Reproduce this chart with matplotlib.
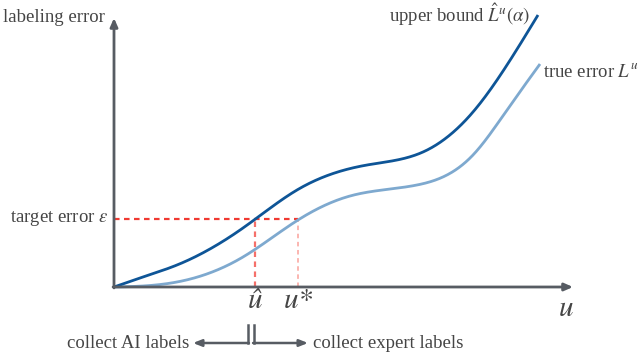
import numpy as np
import matplotlib
matplotlib.use("Agg")
import matplotlib.pyplot as plt

plt.rcParams['mathtext.fontset'] = 'stix'
plt.rcParams['font.family'] = ['Liberation Serif', 'DejaVu Serif']

# ---- data (units: u along x, error along y) ----
S = 46.0
upper_px_x = [114, 143, 177, 243, 297, 367, 423, 473, 507, 538]
upper_px_y = [287, 277, 265, 228, 190, 165, 152, 112, 65, 15]
lower_px_x = [114, 143, 177, 243, 298, 350, 417, 473, 507, 540]
lower_px_y = [287, 286, 282, 257, 220, 196, 185, 155, 110, 64]

u_upper = [(x - 114) / S for x in upper_px_x]
err_upper = [(287 - y) / S for y in upper_px_y]
u_lower = [(x - 114) / S for x in lower_px_x]
err_lower = [(287 - y) / S for y in lower_px_y]

target_err = (287 - 219) / S
u_hat = (255 - 114) / S
u_star = (298 - 114) / S
x_max = (573 - 114) / S
y_max = (287 - 18) / S


def spline(xs, ys, n=500):
    """Natural cubic spline through the read points."""
    x = np.asarray(xs, float); y = np.asarray(ys, float)
    k = len(x); h = np.diff(x)
    A = np.zeros((k, k)); b = np.zeros(k)
    A[0, 0] = A[-1, -1] = 1
    for i in range(1, k - 1):
        A[i, i - 1] = h[i - 1]; A[i, i] = 2 * (h[i - 1] + h[i]); A[i, i + 1] = h[i]
        b[i] = 6 * ((y[i + 1] - y[i]) / h[i] - (y[i] - y[i - 1]) / h[i - 1])
    M = np.linalg.solve(A, b)
    xx = np.linspace(x[0], x[-1], n)
    idx = np.clip(np.searchsorted(x, xx) - 1, 0, k - 2)
    x0, x1 = x[idx], x[idx + 1]; hh = x1 - x0
    yy = (M[idx] * (x1 - xx) ** 3 / (6 * hh) + M[idx + 1] * (xx - x0) ** 3 / (6 * hh)
          + (y[idx] / hh - M[idx] * hh / 6) * (x1 - xx) + (y[idx + 1] / hh - M[idx + 1] * hh / 6) * (xx - x0))
    return xx, yy


fig = plt.figure(figsize=(6.4, 3.55), dpi=100)
ax = fig.add_axes([0, 0, 1, 1])
ax.set_xlim(-114 / S, (640 - 114) / S)
ax.set_ylim((287 - 355) / S, 287 / S)
ax.axis('off')

axis_col = '#575c63'
txt_col = '#454545'
dark = '#0e5597'
light = '#7ea9cf'
FS = 13.5

# dashed guides
ax.plot([0, u_star], [target_err, target_err], color='#f03a32', lw=1.6, ls=(0, (2.5, 2)), zorder=2)
ax.plot([u_hat, u_hat], [0, target_err], color='#f5706a', lw=1.6, ls=(0, (2.5, 2)), zorder=2)
ax.plot([u_star, u_star], [0, target_err], color='#fbb0aa', lw=1.3, ls=(0, (2.5, 2)), zorder=2)

# curves
xu, yu = spline(u_upper, err_upper)
xl, yl = spline(u_lower, err_lower)
ax.plot(xl, yl, color=light, lw=2.0, zorder=3, solid_capstyle='butt')
ax.plot(xu, yu, color=dark, lw=2.0, zorder=4, solid_capstyle='butt')

# axes with arrows
ax.annotate('', xy=(0, y_max), xytext=(0, -0.02), zorder=5,
            arrowprops=dict(arrowstyle='-|>,head_length=0.5,head_width=0.22', color=axis_col, lw=2.0,
                            shrinkA=0, shrinkB=0))
ax.annotate('', xy=(x_max, 0), xytext=(-0.02, 0), zorder=5,
            arrowprops=dict(arrowstyle='-|>,head_length=0.5,head_width=0.22', color=axis_col, lw=2.0,
                            shrinkA=0, shrinkB=0))

# labels
ax.text(-111 / S, (287 - 17) / S, 'labeling error', fontsize=FS, color=txt_col, ha='left', va='center')
ax.text((530 - 114) / S, (287 - 15) / S, r'upper bound $\hat{L}^u(\alpha)$', fontsize=FS, color=txt_col,
        ha='right', va='center')
ax.text((543 - 114) / S, (287 - 73) / S, r'true error $L^u$', fontsize=FS, color=txt_col,
        ha='left', va='center')
ax.text(-6 / S, target_err, r'target error $\epsilon$', fontsize=FS, color=txt_col, ha='right', va='center')
ax.text(u_hat, (287 - 301) / S, 'û', fontsize=21, color=txt_col, ha='center', va='center',
        family='STIXGeneral', style='italic')
ax.text(u_star, (287 - 301) / S, 'u*', fontsize=21, color=txt_col, ha='center', va='center',
        family='STIXGeneral', style='italic')
ax.text((566 - 114) / S, (287 - 309) / S, 'u', fontsize=21, color=txt_col, ha='center', va='center',
        family='STIXGeneral', style='italic')

# bracket and arrows
yb_top = (287 - 325) / S
yb = (287 - 343) / S
xl_b = (248 - 114) / S
xr_b = (254 - 114) / S
ax.plot([xl_b, xl_b], [yb_top, yb], color=axis_col, lw=1.8)
ax.plot([xr_b, xr_b], [yb_top, yb], color=axis_col, lw=1.8)
ax.annotate('', xy=((193 - 114) / S, yb), xytext=(xl_b + 0.02, yb),
            arrowprops=dict(arrowstyle='-|>,head_length=0.5,head_width=0.2', color=axis_col, lw=1.8,
                            shrinkA=0, shrinkB=0))
ax.annotate('', xy=((308 - 114) / S, yb), xytext=(xr_b - 0.02, yb),
            arrowprops=dict(arrowstyle='-|>,head_length=0.5,head_width=0.2', color=axis_col, lw=1.8,
                            shrinkA=0, shrinkB=0))
ax.text((189 - 114) / S, yb, 'collect AI labels', fontsize=FS, color=txt_col, ha='right', va='center')
ax.text((313 - 114) / S, yb, 'collect expert labels', fontsize=FS, color=txt_col, ha='left', va='center')

fig.savefig('out.png', dpi=100)
